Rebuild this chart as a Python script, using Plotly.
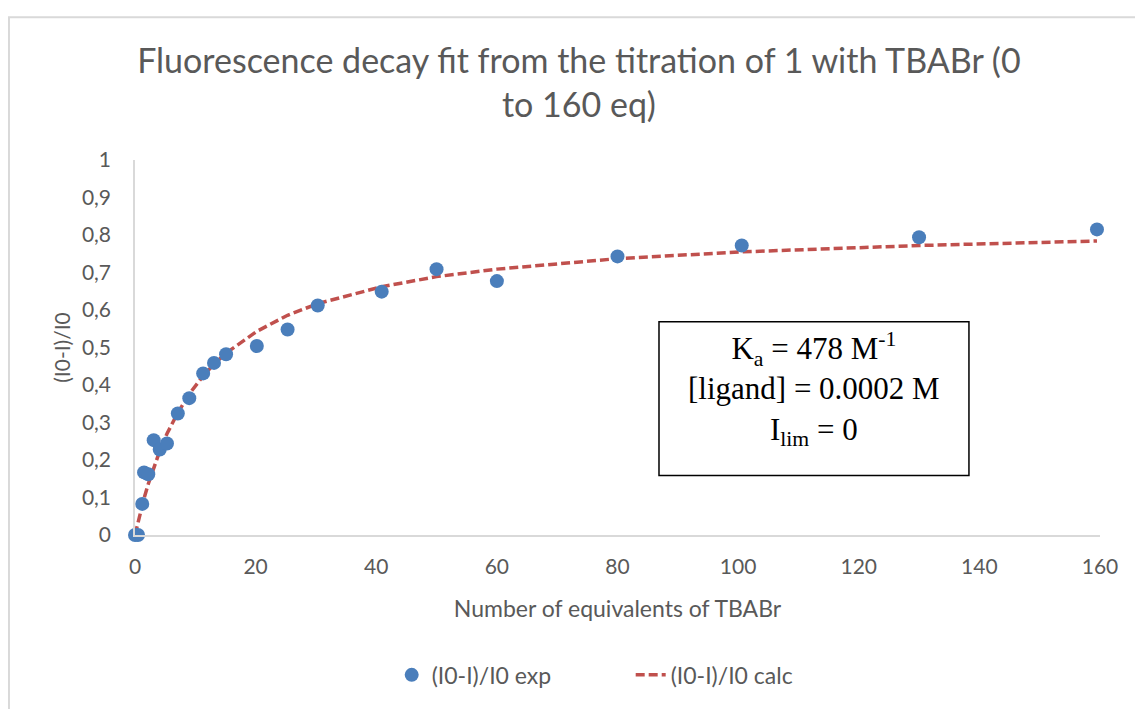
import plotly.graph_objects as go

# Experimental data (equivalents of TBABr, (I0-I)/I0)
eq_exp = [0, 0.5, 1.2, 1.5, 2.2, 3.1, 4.1, 5.3, 7.1, 9, 11.3, 13.1, 15.1, 20.2, 25.3, 30.3, 40.9, 50, 60, 80, 100.6, 130, 159.5]
ratio_exp = [0.0, 0.0, 0.083, 0.167, 0.162, 0.253, 0.228, 0.244, 0.324, 0.365, 0.431, 0.459, 0.482, 0.504, 0.548,
             0.612, 0.649, 0.709, 0.677, 0.743, 0.772, 0.794, 0.815]

# Calculated fit curve values
eq_calc = [0, 0.5, 1.2, 1.5, 2.2, 3.1, 4.1, 5.3, 7.1, 9, 11.3, 13.1, 15.1, 20.2, 25.3, 30.3, 40.9, 50, 60, 80, 100.6, 130, 159.5]
ratio_calc = [0.0, 0.035, 0.080, 0.098, 0.136, 0.181, 0.224, 0.270, 0.326, 0.376, 0.424, 0.456, 0.485, 0.543, 0.586,
              0.617, 0.662, 0.689, 0.709, 0.737, 0.755, 0.772, 0.784]

y_tick_vals = [0, 0.1, 0.2, 0.3, 0.4, 0.5, 0.6, 0.7, 0.8, 0.9, 1]
y_tick_text = ["0", "0,1", "0,2", "0,3", "0,4", "0,5", "0,6", "0,7", "0,8", "0,9", "1"]
x_tick_vals = [0, 20, 40, 60, 80, 100, 120, 140, 160]

box_lines = ["K<sub>a</sub> = 478 M<sup>-1</sup>", "[ligand] = 0.0002 M", "I<sub>lim</sub> = 0"]

GRAY = "#595959"
FONT = "Lato"

fig = go.Figure()
fig.add_trace(go.Scatter(
    x=eq_calc, y=ratio_calc, mode="lines", name="(I0-I)/I0 calc",
    line=dict(color="#C0504D", width=3.5, dash="9px,4px"), legendrank=2,
    cliponaxis=False,
))
fig.add_trace(go.Scatter(
    x=eq_exp, y=ratio_exp, mode="markers", name="(I0-I)/I0 exp",
    marker=dict(color="#4A7EBB", size=14), legendrank=1,
    cliponaxis=False,
))

fig.update_layout(
    width=1135, height=701,
    margin=dict(l=127, r=43, t=152, b=171),
    paper_bgcolor="white", plot_bgcolor="white",
    font=dict(family=FONT, color=GRAY, size=21),
    title=dict(
        text="Fluorescence decay fit from the titration of 1 with TBABr (0<br>to 160 eq)",
        x=0.503, xanchor="center", y=0.907, yanchor="middle",
        font=dict(family=FONT, size=34, color=GRAY),
    ),
    xaxis=dict(
        range=[0, 160], tickvals=x_tick_vals, showgrid=False, zeroline=False,
        showline=True, linecolor="#D9D9D9", linewidth=1.5, ticks="",
        tickfont=dict(size=21, color=GRAY), ticklabelstandoff=12,
        title=dict(text="Number of equivalents of TBABr", font=dict(size=23, color=GRAY), standoff=24),
    ),
    yaxis=dict(
        range=[0, 1], tickvals=y_tick_vals, ticktext=y_tick_text, showgrid=False, zeroline=False,
        showline=True, linecolor="#D9D9D9", linewidth=1.5, ticks="",
        tickfont=dict(size=21, color=GRAY), ticklabelstandoff=18,
        title=dict(text="(I0-I)/I0", font=dict(size=21, color=GRAY), standoff=6),
    ),
    legend=dict(
        orientation="h", x=0.266, xanchor="left", y=-0.373, yanchor="middle",
        font=dict(size=23, color=GRAY), bgcolor="rgba(0,0,0,0)",
        entrywidth=194, entrywidthmode="pixels",
    ),
    showlegend=True,
)

# outer chart frame (partially cropped)
fig.add_shape(type="rect", xref="paper", yref="paper",
              x0=-0.1306, x1=1.08, y0=-0.5, y1=1.381,
              line=dict(color="#D9D9D9", width=2), layer="below")

# parameter box
fig.add_shape(type="rect", xref="paper", yref="paper",
              x0=0.543, x1=0.8642, y0=0.1587, y1=0.5688,
              line=dict(color="black", width=1.5), fillcolor="white")
fig.add_annotation(
    xref="paper", yref="paper", x=0.7036, y=0.389, xanchor="center", yanchor="middle",
    text="<br>".join(box_lines), showarrow=False, align="center",
    font=dict(family="Liberation Serif", size=31, color="black"),
)

fig.write_html("out.html")
